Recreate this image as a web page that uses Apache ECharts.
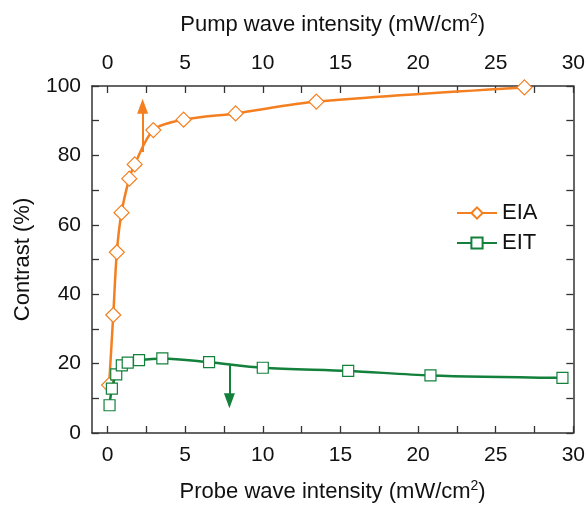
<!DOCTYPE html>
<html><head><meta charset="utf-8">
<script src="https://cdn.jsdelivr.net/npm/echarts@6/dist/echarts.min.js"></script>
<style>html,body{margin:0;padding:0;background:#fff}#c{width:588px;height:511px}</style>
</head><body><div id="c"></div>
<script>
const eiaX = [0.1, 0.37, 0.6, 0.9, 1.4, 1.75, 2.95, 4.9, 8.25, 13.45, 26.85];
const eiaY = [13.8, 34.0, 52.1, 63.5, 73.3, 77.4, 87.3, 90.3, 92.1, 95.5, 99.6];
const eitX = [0.13, 0.28, 0.56, 0.92, 1.3, 2.03, 3.53, 6.54, 10.0, 15.5, 20.8, 29.3];
const eitY = [8.0, 12.8, 16.9, 19.5, 20.3, 21.0, 21.5, 20.4, 18.8, 17.9, 16.6, 15.9];
const eiaArrow = [[2.26, 81.0], [2.26, 94.2]];
const eitArrow = [[7.85, 19.9], [7.85, 9.3]];
const xRange = [-1, 30];
const xTickLabels = [0, 5, 10, 15, 20, 25, 30];
const xTickMarks = [0, 2.5, 5, 7.5, 10, 12.5, 15, 17.5, 20, 22.5, 25, 27.5, 30];
const yTicks = [0, 20, 40, 60, 80, 100];

const ORANGE = '#f47f20', GREEN = '#13803c', AX = '#333';
const FONT = 'Liberation Sans, Arial, sans-serif';
const zip = (a, b) => a.map((v, i) => [v, b[i]]);
const supRich = { sup: { fontSize: 14, verticalAlign: 'top', padding: [0, 0, 12, 0], color: '#111', fontFamily: FONT } };

function xAxis(pos, name, gap) {
  return {
    type: 'value', position: pos, min: xRange[0], max: xRange[1],
    name: name, nameLocation: 'middle', nameGap: gap,
    nameTextStyle: { fontSize: 22, color: '#111', fontFamily: FONT, rich: supRich },
    axisLine: { show: true, onZero: false, lineStyle: { color: AX, width: 1.5 } },
    axisTick: { show: true, inside: true, length: 7, customValues: xTickMarks, lineStyle: { color: AX, width: 1.3 } },
    axisLabel: { fontSize: 21, color: '#111', fontFamily: FONT, margin: 12, customValues: xTickLabels },
    splitLine: { show: false }
  };
}
function yAxis(pos, labels) {
  return {
    type: 'value', position: pos, min: yTicks[0], max: yTicks[yTicks.length - 1], interval: 20,
    name: labels ? 'Contrast (%)' : '', nameLocation: 'middle', nameGap: 58,
    nameTextStyle: { fontSize: 22, color: '#111', fontFamily: FONT },
    axisLine: { show: true, onZero: false, lineStyle: { color: AX, width: 1.5 } },
    axisTick: { show: true, inside: true, length: 7, lineStyle: { color: AX, width: 1.3 } },
    minorTick: { show: true, splitNumber: 2, length: 7, lineStyle: { color: AX, width: 1.3 } },
    axisLabel: { show: labels, fontSize: 21, color: '#111', fontFamily: FONT, margin: 11 },
    splitLine: { show: false }
  };
}
function arrow(pts, color) {
  return {
    silent: true, symbol: ['none', 'triangle'], symbolSize: [11, 15], label: { show: false },
    lineStyle: { color: color, width: 2, type: 'solid' },
    data: [[{ coord: pts[0] }, { coord: pts[1] }]]
  };
}

const chart = echarts.init(document.getElementById('c'));
chart.setOption({
  animation: false,
  backgroundColor: '#fff',
  grid: { left: 92, right: 12, top: 86, bottom: 78 },
  xAxis: [xAxis('bottom', 'Probe wave intensity (mW/cm{sup|2})', 46), xAxis('top', 'Pump wave intensity (mW/cm{sup|2})', 48)],
  yAxis: [yAxis('left', true), yAxis('right', false)],
  legend: {
    orient: 'vertical', left: 451, top: 197, itemWidth: 40, itemHeight: 14, itemGap: 8,
    textStyle: { fontSize: 22, color: '#111', fontFamily: FONT },
    data: ['EIA', 'EIT']
  },
  series: [
    {
      name: 'EIA', type: 'line', xAxisIndex: 1, yAxisIndex: 0, data: zip(eiaX, eiaY),
      smooth: 0.3, z: 2,
      symbol: 'diamond', symbolSize: 15,
      lineStyle: { color: ORANGE, width: 2.5 },
      itemStyle: { color: '#fff', borderColor: ORANGE, borderWidth: 1.2 },
      markLine: arrow(eiaArrow, ORANGE)
    },
    {
      name: 'EIT', type: 'line', xAxisIndex: 0, yAxisIndex: 0, data: zip(eitX, eitY),
      smooth: 0.3, z: 3,
      symbol: 'rect', symbolSize: 11,
      lineStyle: { color: GREEN, width: 2.5 },
      itemStyle: { color: '#fff', borderColor: GREEN, borderWidth: 1.2 },
      markLine: arrow(eitArrow, GREEN)
    }
  ]
});
</script></body></html>
